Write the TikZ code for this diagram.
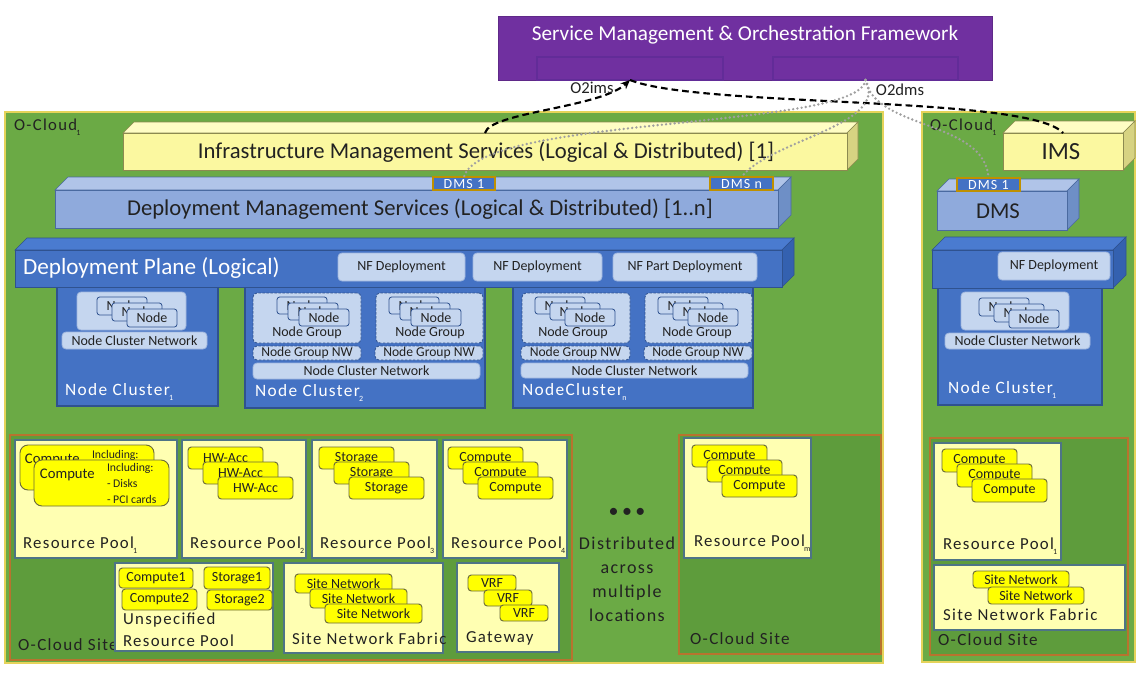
\documentclass[tikz,border=0pt]{standalone}
\usepackage{fontspec}
\setmainfont{Carlito}
\newfontfamily\spaced[LetterSpace=8]{Carlito}
\usetikzlibrary{arrows.meta}

\definecolor{smopurple}{HTML}{7030A0}
\definecolor{smoinner}{HTML}{622C98}
\definecolor{cloudgreen}{HTML}{6BAA45}
\definecolor{cloudborder}{HTML}{E5D35A}
\definecolor{sitegreen}{HTML}{5E9C3C}
\definecolor{sitebrown}{HTML}{B8732E}
\definecolor{poolyellow}{HTML}{FFFFB2}
\definecolor{poolborder}{HTML}{4E7486}
\definecolor{resyellow}{HTML}{FFFF00}
\definecolor{resborder}{HTML}{6B6B3A}
\definecolor{imsfront}{HTML}{FBF8A0}
\definecolor{imstop}{HTML}{FFFDC4}
\definecolor{imsside}{HTML}{D7D382}
\definecolor{imsborder}{HTML}{8C8A50}
\definecolor{dmsfront}{HTML}{8FAADC}
\definecolor{dmstop}{HTML}{B0C4E8}
\definecolor{dmsside}{HTML}{6E8FC6}
\definecolor{dmsborder}{HTML}{4A6AA0}
\definecolor{dpfront}{HTML}{4472C4}
\definecolor{dptop}{HTML}{4A7BD0}
\definecolor{dpside}{HTML}{3461B0}
\definecolor{dpborder}{HTML}{2F528F}
\definecolor{lightblue}{HTML}{C5D6EF}
\definecolor{lightborder}{HTML}{9FB6DE}
\definecolor{goldb}{HTML}{BF9000}
\definecolor{darktext}{HTML}{222222}
\definecolor{dotgray}{HTML}{A0A0A0}

\newcommand{\fs}[1]{\fontsize{#1}{#1}\selectfont}
\newcommand{\sbs}[1]{\kern-0.05em\raisebox{-0.6ex}{\fontsize{6}{6}\selectfont #1}}
\newcommand{\rbox}[7][]{\node[rect,#1,minimum width={(#5-#3)*0.75pt},minimum height={(#6-#4)*0.75pt},anchor=north west] (#2) at (#3,#4) {#7};}
\newcommand{\mystack}[9]{%
  \node[#1,minimum width={#5*0.75pt},minimum height={#6*0.75pt},anchor=north west] (#2a) at (#3,#4) {#9};
  \node[#1,minimum width={#5*0.75pt},minimum height={#6*0.75pt},anchor=north west] (#2b) at ({#3+#7},{#4+#8}) {#9};
  \node[#1,minimum width={#5*0.75pt},minimum height={#6*0.75pt},anchor=north west] (#2c) at ({#3+2*#7},{#4+2*#8}) {#9};
}
\newcommand{\mkcuboid}[6]{%
  \filldraw[fill=#6top,draw=#6border,line width=0.5pt] (#1,#2) -- ({#1+#5},{#2-#5}) -- ({#3+#5},{#2-#5}) -- (#3,#2) -- cycle;
  \filldraw[fill=#6side,draw=#6border,line width=0.5pt] (#3,#2) -- ({#3+#5},{#2-#5}) -- ({#3+#5},{#4-#5}) -- (#3,#4) -- cycle;
}

\begin{document}
\begin{tikzpicture}[x=0.75pt,y=-0.75pt,
 rect/.style={inner sep=0pt, outer sep=0pt, line width=0.6pt},
 cloud/.style={rect, fill=cloudgreen, draw=cloudborder, line width=1.2pt},
 site/.style={rect, fill=sitegreen, draw=sitebrown, line width=1pt},
 pool/.style={rect, fill=poolyellow, draw=poolborder, line width=0.9pt},
 res/.style={rect, fill=resyellow, draw=resborder, rounded corners=2.5pt, line width=0.7pt, text=darktext, font=\fs{10.5}},
 lite/.style={rect, fill=lightblue, draw=lightborder, rounded corners=3pt, text=darktext, font=\fs{10.5}},
 nbox/.style={rect, fill=lightblue, draw=dpborder, rounded corners=2pt, font=\fs{10.5}, text=darktext},
 ng/.style={rect, fill=lightblue, draw=dpborder, dash pattern=on 2pt off 1pt, rounded corners=3pt, text=darktext, font=\fs{10.2}},
 ncl/.style={rect, fill=dpfront, draw=dpborder, line width=0.8pt},
 dmslab/.style={rect, fill=dpfront, draw=goldb, line width=0.8pt, text=white, font=\spaced\fs{10.5}},
 tx/.style={inner sep=0pt, outer sep=0pt, text=darktext},
 wt/.style={inner sep=0pt, outer sep=0pt, text=white},
 o2ims/.style={line width=1.6pt, dash pattern=on 5pt off 3pt, black},
 o2dms/.style={line width=2pt, dotgray, line cap=round, dash pattern=on 0pt off 3.2pt},
]
\useasboundingbox[fill=white] (0,0) rectangle (1143,672);

% SMO
\rbox[fill=smopurple, draw=smopurple!85!black]{smo}{498}{16}{992}{80}{}
\node[wt, font=\fs{15.9}] (smotext) at (745,35) {Service Management \& Orchestration Framework};
\rbox[draw=smoinner, line width=0.8pt]{smoL}{537}{57}{723}{80}{}
\rbox[draw=smoinner, line width=0.8pt]{smoR}{773}{57}{958}{80}{}

% O-Clouds
\rbox[cloud]{oc1}{5}{112}{883}{663}{}
\rbox[cloud]{oc2}{922}{112}{1135}{662}{}
\node[tx, font=\spaced\fs{12.5}, anchor=west] (oc1lab) at (14,127) {O-Cloud\sbs{1}};
\node[tx, font=\spaced\fs{12.5}, anchor=west] (oc2lab) at (930,127) {O-Cloud\sbs{1}};

% Sites
\rbox[site]{site1}{10}{435}{572}{660}{}
\rbox[site]{site2}{679}{435}{881}{654}{}
\rbox[site]{site3}{930}{438}{1128}{655}{}
\node[tx, font=\spaced\fs{12.8}, anchor=west] (s1lab) at (18,645) {O-Cloud Site};
\node[tx, font=\spaced\fs{12.8}, anchor=west] (s2lab) at (690,639) {O-Cloud Site};
\node[tx, font=\spaced\fs{12.8}, anchor=west] (s3lab) at (938,640) {O-Cloud Site};

% Pools
\rbox[pool]{rp1}{15}{440}{177}{558}{}
\rbox[pool]{rp2}{182}{440}{306}{558}{}
\rbox[pool]{rp3}{312}{440}{437}{558}{}
\rbox[pool]{rp4}{443}{440}{567}{558}{}
\rbox[pool]{urp}{115}{563}{273}{651}{}
\rbox[pool]{snf}{284}{563}{443}{653}{}
\rbox[pool]{gw}{457}{563}{559}{652}{}
\rbox[pool]{rpm}{684}{438}{811}{558}{}
\rbox[pool]{rpR}{934}{443}{1061}{560}{}
\rbox[pool]{snfR}{934}{565}{1125}{630}{}

% RP1 contents
\rbox[res, rounded corners=6pt]{c1back}{20}{445}{154}{490}{}
\node[tx, font=\fs{11}, anchor=west] (c1bt) at (25,460) {Compute};
\node[tx, font=\fs{8.8}, anchor=west] (c1bi) at (92,455) {Including:};
\rbox[res, rounded corners=6pt]{c1front}{34}{460}{169}{506}{}
\node[tx, font=\fs{11}, anchor=west] (c1ft) at (40,475) {Compute};
\node[tx, font=\fs{8.8}, anchor=west] (c1fi) at (107,468) {Including:};
\node[tx, font=\fs{8.8}, anchor=west] (c1fd) at (107,483) {- Disks};
\node[tx, font=\fs{8.8}, anchor=west] (c1fp) at (107,499) {- PCI cards};

\mystack{res}{hw}{188}{447}{75}{22}{15}{15}{HW-Acc}
\mystack{res}{st}{319}{447}{75}{22}{15}{15}{Storage}
\mystack{res}{cpf}{448}{447}{75}{22}{15}{15}{Compute}
\mystack{res}{cpm}{692}{445}{75}{22}{15}{15}{Compute}
\mystack{res}{cpr}{942}{449}{75}{23}{15}{15}{Compute}

\node[tx, font=\spaced\fs{12.6}, anchor=west] (rp1t) at (23,545) {Resource Pool\sbs{1}};
\node[tx, font=\spaced\fs{12.6}, anchor=west] (rp2t) at (190,545) {Resource Pool\sbs{2}};
\node[tx, font=\spaced\fs{12.6}, anchor=west] (rp3t) at (320,545) {Resource Pool\sbs{3}};
\node[tx, font=\spaced\fs{12.6}, anchor=west] (rp4t) at (451,545) {Resource Pool\sbs{4}};
\node[tx, font=\spaced\fs{12.6}, anchor=west] (rpmt) at (694,543) {Resource Pool\sbs{m}};
\node[tx, font=\spaced\fs{12.6}, anchor=west] (rpRt) at (943,546) {Resource Pool\sbs{1}};

% Unspecified
\rbox[res]{u1}{119}{568}{193}{588}{Compute1}
\rbox[res]{u2}{122}{589}{197}{610}{Compute2}
\rbox[res]{u3}{204}{567}{270}{589}{Storage1}
\rbox[res]{u4}{207}{590}{272}{610}{Storage2}
\node[tx, font=\spaced\fs{12.6}, anchor=west] (urp1) at (123,620) {Unspecified};
\node[tx, font=\spaced\fs{12.6}, anchor=west] (urp2) at (123,641) {Resource Pool};

% Site network fabric
\mystack{res}{sn}{295}{574}{97}{19}{15}{15}{Site Network}
\node[tx, font=\spaced\fs{12.6}, anchor=west] (snft) at (292,639) {Site Network Fabric};
\rbox[res]{snR1}{973}{571}{1069}{588}{Site Network}
\rbox[res]{snR2}{988}{587}{1084}{604}{Site Network}
\node[tx, font=\spaced\fs{12.6}, anchor=west] (snfRt) at (943,615) {Site Network Fabric};

% Gateway
\mystack{res}{vrf}{468}{575}{48}{16}{16}{15}{VRF}
\node[tx, font=\spaced\fs{12.6}, anchor=west] (gwt) at (466,638) {Gateway};

% Distributed
\node[tx, font=\fs{15}] (dots) at (627,513) {\textbullet\,\textbullet\,\textbullet};
\node[tx, font={\spaced\fontsize{13.5}{18}\selectfont}, align=center] (dist) at (627,579) {Distributed\\across\\multiple\\locations};

% IMS left
\mkcuboid{123}{133}{847}{170}{11}{ims}
\rbox[fill=imsfront, draw=imsborder, line width=0.5pt]{ims}{123}{133}{847}{170}{}
\node[tx, font=\fs{17}] (imst) at (486,152) {Infrastructure Management Services (Logical \& Distributed) [1]};

% DMS left
\mkcuboid{55}{190}{778}{228}{13}{dms}
\rbox[fill=dmsfront, draw=dmsborder, line width=0.5pt]{dms}{55}{190}{778}{228}{}
\node[tx, font=\fs{17}] (dmst) at (420,209) {Deployment Management Services (Logical \& Distributed) [1..n]};
\rbox[dmslab]{dms1}{433}{177}{495}{190}{DMS 1}
\rbox[dmslab]{dmsn}{710}{177}{773}{190}{DMS n}

% Node cluster 1
\rbox[ncl]{nc1}{57}{287}{218}{406}{}
\rbox[lite]{nc1c}{77}{292}{186}{330}{}
\mystack{nbox}{nc1n}{97}{297}{50}{18}{15}{6}{Node}
\rbox[lite]{nc1net}{62}{332}{207}{349}{Node Cluster Network}
\node[wt, font=\spaced\fs{13}, anchor=west] (nc1lab) at (65,392) {Node Cluster\sbs{1}};

% Node cluster 2
\rbox[ncl]{nc2}{245}{287}{485}{408}{}
\rbox[ng]{nc2g1}{253}{293}{361}{343}{}
\mystack{nbox}{nc2ga}{277}{297}{50}{17}{11}{6}{Node}
\node[tx, font=\fs{10.5}] (nc2g1t) at (307,333) {Node Group};
\rbox[ng]{nc2w1}{253}{346}{361}{360}{Node Group NW}
\rbox[ng]{nc2g2}{376}{293}{483}{343}{}
\mystack{nbox}{nc2gb}{389}{297}{50}{17}{11}{6}{Node}
\node[tx, font=\fs{10.5}] (nc2g2t) at (430,333) {Node Group};
\rbox[ng]{nc2w2}{375}{346}{483}{360}{Node Group NW}
\rbox[lite]{nc2net}{253}{363}{480}{379}{Node Cluster Network}
\node[wt, font=\spaced\fs{13}, anchor=west] (nc2lab) at (255,393) {Node Cluster\sbs{2}};

% Node cluster 3
\rbox[ncl]{nc3}{513}{287}{753}{408}{}
\rbox[ng]{nc3g1}{522}{293}{630}{343}{}
\mystack{nbox}{nc3ga}{535}{297}{50}{17}{15}{6}{Node}
\node[tx, font=\fs{10.5}] (nc3g1t) at (573,333) {Node Group};
\rbox[ng]{nc3w1}{521}{346}{630}{360}{Node Group NW}
\rbox[ng]{nc3g2}{645}{293}{752}{343}{}
\mystack{nbox}{nc3gb}{658}{297}{50}{17}{15}{6}{Node}
\node[tx, font=\fs{10.5}] (nc3g2t) at (697,333) {Node Group};
\rbox[ng]{nc3w2}{644}{346}{752}{360}{Node Group NW}
\rbox[lite]{nc3net}{521}{363}{748}{378}{Node Cluster Network}
\node[wt, font=\spaced\fs{13}, anchor=west] (nc3lab) at (522,392) {NodeCluster\sbs{n}};

% Deployment plane left
\mkcuboid{15}{250}{782}{287}{12}{dp}
\rbox[fill=dpfront, draw=dpborder, line width=0.5pt]{dp}{15}{250}{782}{287}{}
\node[wt, font=\fs{17.4}, anchor=west] (dpt) at (23,268) {Deployment Plane (Logical)};
\rbox[lite]{nf1}{338}{253}{465}{281}{NF Deployment}
\rbox[lite]{nf2}{473}{253}{602}{281}{NF Deployment}
\rbox[lite]{nf3}{613}{253}{757}{281}{NF Part Deployment}

% Right O-Cloud stack
\mkcuboid{1003}{133}{1123}{170}{12}{ims}
\rbox[fill=imsfront, draw=imsborder, line width=0.5pt]{imsR}{1003}{133}{1123}{170}{}
\node[tx, font=\fs{18.5}] (imsRt) at (1061,152) {IMS};
\mkcuboid{937}{191}{1067}{230}{12}{dms}
\rbox[fill=dmsfront, draw=dmsborder, line width=0.5pt]{dmsR}{937}{191}{1067}{230}{}
\node[tx, font=\fs{17}] (dmsRt) at (998,211) {DMS};
\rbox[dmslab]{dms1R}{957}{178}{1020}{191}{DMS 1}

\rbox[ncl]{ncR}{938}{288}{1102}{405}{}
\rbox[lite]{ncRc}{961}{292}{1069}{330}{}
\mystack{nbox}{ncRn}{979}{298}{50}{18}{15}{6}{Node}
\rbox[lite]{ncRnet}{945}{333}{1090}{349}{Node Cluster Network}
\node[wt, font=\spaced\fs{13}, anchor=west] (ncRlab) at (948,390) {Node Cluster\sbs{1}};

\mkcuboid{932}{250}{1113}{288}{13}{dp}
\rbox[fill=dpfront, draw=dpborder, line width=0.5pt]{dpR}{932}{250}{1113}{288}{}
\rbox[lite]{nfR}{998}{252}{1110}{280}{NF Deployment}

% Interfaces
\draw[o2ims, -{Stealth[length=7pt,width=6pt]}] (ims.north) .. controls (490,112) and (600,108) .. (smoL.south);
\draw[o2ims] (smoL.south) .. controls (700,108) and (1030,95) .. (imsR.north);
\draw[o2dms] (smoR.south) .. controls (860,130) and (480,115) .. (dms1.north);
\draw[o2dms] (smoR.south) .. controls (890,125) and (770,140) .. (dmsn.north);
\draw[o2dms] (smoR.south) .. controls (875,130) and (985,120) .. (dms1R.north);
\node[tx, font=\fs{12.5}] (o2imsl) at (592,88) {O2ims};
\node[tx, font=\fs{12.5}] (o2dmsl) at (900,90) {O2dms};
\end{tikzpicture}
\end{document}
